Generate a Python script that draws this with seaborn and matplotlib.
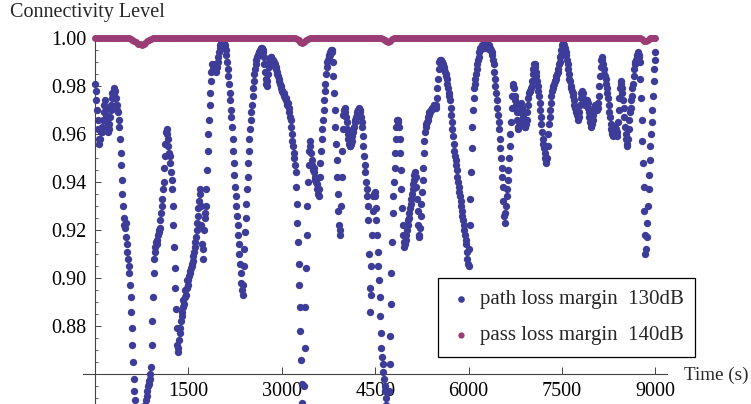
import numpy as np
import pandas as pd
import matplotlib
matplotlib.use("Agg")
import matplotlib.pyplot as plt
import seaborn as sns
from matplotlib.ticker import MultipleLocator

# ---------------- data ----------------
# connectivity level, path loss margin 130 dB, sampled every 10 s (t = 0 ... 9000 s)
blue_step = 10
blue_values = [
    .981, .978, .974, .970, .966, .962, .958, .956, .958, .961,
    .962, .961, .963, .966, .969, .972, .974, .971, .968, .965,
    .963, .961, .962, .964, .967, .970, .972, .975, .977, .975,
    .977, .979, .978, .975, .972, .970, .972, .969, .966, .963,
    .958, .952, .947, .941, .935, .930, .925, .922, .921, .923,
    .917, .914, .911, .908, .905, .902, .897, .892, .886, .879,
    .872, .865, .858, .853, .849, .845, .840, .836, .832, .830,
    .828, .826, .825, .826, .828, .830, .833, .836, .840, .843,
    .845, .847, .849, .851, .853, .855, .856, .857, .858, .860,
    .863, .872, .882, .892, .902, .908, .911, .913, .915, .914,
    .916, .918, .920, .919, .921, .924, .927, .930, .933, .937,
    .940, .946, .951, .956, .961, .962, .960, .958, .955, .952,
    .951, .948, .944, .941, .937, .930, .922, .913, .904, .896,
    .887, .879, .872, .869, .871, .874, .877, .879, .882, .884,
    .886, .888, .891, .889, .892, .895, .893, .896, .899, .897,
    .899, .901, .903, .902, .904, .906, .905, .907, .909, .911,
    .913, .915, .917, .920, .923, .926, .929, .932, .935, .937,
    .930, .922, .914, .908, .912, .920, .927, .925, .930, .937,
    .945, .953, .960, .966, .972, .977, .982, .986, .989, .987,
    .987, .988, .989, .988, .987, .986, .988, .990, .992, .994,
    .996, .997, .998, .999, .999, .998, .999, .998, .997, .996,
    .995, .993, .990, .987, .984, .981, .977, .974, .970, .967,
    .963, .958, .953, .948, .943, .938, .934, .930, .926, .922,
    .918, .914, .910, .906, .902, .898, .895, .893, .897, .905,
    .912, .919, .925, .931, .937, .942, .948, .953, .958, .962,
    .966, .969, .972, .976, .979, .982, .985, .987, .989, .991,
    .992, .993, .993, .994, .994, .995, .995, .996, .996, .995,
    .994, .992, .989, .986, .983, .981, .980, .982, .985, .988,
    .990, .991, .992, .992, .991, .990, .991, .990, .989, .989,
    .988, .987, .986, .985, .984, .983, .982, .981, .980, .979,
    .978, .978, .977, .977, .976, .975, .975, .974, .973, .972,
    .973, .971, .969, .967, .966, .963, .960, .957, .955, .952,
    .950, .947, .944, .938, .931, .923, .915, .906, .897, .888,
    .878, .866, .856, .848, .843, .845, .855, .871, .888, .904,
    .918, .930, .940, .947, .953, .957, .955, .952, .949, .947,
    .945, .946, .944, .942, .941, .940, .939, .937, .935, .934,
    .937, .942, .948, .953, .958, .962, .966, .970, .974, .978,
    .981, .985, .988, .990, .991, .993, .992, .994, .993, .995,
    .995, .994, .990, .984, .977, .970, .963, .956, .949, .942,
    .935, .928, .922, .918, .920, .930, .942, .953, .962, .968,
    .970, .971, .969, .967, .965, .962, .960, .958, .956, .955,
    .955, .956, .957, .959, .961, .962, .963, .965, .966, .967,
    .968, .969, .970, .970, .971, .970, .969, .967, .965, .963,
    .959, .955, .951, .947, .944, .940, .937, .934, .930, .924,
    .910, .896, .886, .893, .905, .918, .928, .934, .935, .936,
    .934, .929, .924, .918, .911, .905, .899, .892, .884, .877,
    .871, .867, .864, .861, .858, .855, .853, .850, .847, .845,
    .843, .846, .853, .864, .876, .889, .902, .915, .927, .934,
    .940, .946, .952, .958, .963, .966, .965, .966, .963, .958,
    .952, .945, .937, .929, .922, .918, .915, .913, .914, .916,
    .918, .920, .922, .924, .925, .927, .929, .931, .933, .935,
    .937, .939, .941, .943, .944, .942, .938, .933, .928, .922,
    .918, .917, .921, .926, .931, .936, .941, .946, .952, .957,
    .961, .963, .964, .965, .966, .967, .968, .969, .969, .970,
    .970, .971, .971, .971, .972, .972, .971, .971, .972, .975,
    .979, .983, .987, .990, .991, .991, .990, .990, .990, .989,
    .988, .987, .986, .985, .984, .983, .981, .979, .977, .976,
    .974, .971, .968, .965, .962, .959, .956, .953, .951, .949,
    .947, .945, .942, .940, .938, .936, .934, .932, .930, .928,
    .926, .924, .922, .920, .918, .916, .914, .911, .908, .906,
    .905, .912, .922, .933, .944, .954, .963, .970, .975, .979,
    .981, .983, .985, .987, .989, .991, .992, .994, .995, .996,
    .996, .996, .997, .997, .996, .996, .997, .997, .996, .996,
    .996, .997, .997, .996, .996, .995, .995, .994, .993, .991,
    .989, .986, .983, .980, .977, .974, .971, .968, .965, .962,
    .958, .954, .950, .946, .942, .938, .932, .926, .923, .927,
    .930, .934, .937, .941, .945, .950, .955, .960, .965, .971,
    .976, .980, .981, .979, .976, .974, .972, .969, .966, .963,
    .962, .965, .969, .972, .973, .971, .969, .967, .965, .964,
    .963, .963, .964, .966, .969, .972, .975, .977, .978, .978,
    .979, .980, .982, .985, .987, .989, .989, .988, .986, .984,
    .982, .980, .978, .976, .973, .970, .967, .964, .961, .958,
    .956, .954, .952, .950, .948, .949, .950, .955, .960, .964,
    .967, .970, .973, .976, .978, .979, .980, .981, .982, .982,
    .983, .984, .985, .986, .987, .989, .990, .992, .993, .995,
    .997, .998, .998, .997, .996, .995, .994, .993, .991, .989,
    .987, .985, .983, .982, .980, .979, .978, .977, .976, .974,
    .972, .971, .970, .969, .968, .967, .966, .967, .969, .972,
    .975, .977, .978, .977, .975, .974, .973, .972, .972, .973,
    .974, .973, .971, .969, .967, .965, .964, .963, .964, .966,
    .968, .970, .971, .972, .971, .970, .970, .971, .973, .976,
    .980, .984, .988, .991, .992, .991, .989, .987, .985, .984,
    .983, .981, .979, .977, .975, .972, .969, .967, .964, .962,
    .961, .960, .959, .960, .962, .963, .962, .960, .959, .961,
    .965, .970, .975, .979, .982, .981, .979, .977, .974, .971,
    .967, .963, .960, .958, .956, .955, .958, .962, .966, .969,
    .971, .974, .976, .979, .981, .984, .987, .989, .990, .991,
    .992, .993, .994, .992, .993, .990, .983, .975, .966, .957,
    .948, .938, .928, .918, .910, .912, .917, .923, .930, .937,
    .943, .949, .955, .960, .965, .970, .976, .982, .987, .991,
    .994,
]

# connectivity level, pass loss margin 140 dB, sampled every 30 s (t = 0 ... 9000 s)
purple_step = 30
purple_values = [
    # 0 - 510 s
    1.0, 1.0, 1.0, 1.0, 1.0, 1.0, 1.0, 1.0, 1.0, 1.0,
    1.0, 1.0, 1.0, 1.0, 1.0, 1.0, 1.0, 1.0,
    # 540 - 900 s
    0.9998, 0.9995, 0.9991, 0.9987, 0.9982, 0.9977, 0.9973, 0.9972, 0.9975,
    0.9980, 0.9986, 0.9991, 0.9996,
    # 930 - 3210 s
    1.0, 1.0, 1.0, 1.0, 1.0, 1.0, 1.0, 1.0, 1.0, 1.0,
    1.0, 1.0, 1.0, 1.0, 1.0, 1.0, 1.0, 1.0, 1.0, 1.0,
    1.0, 1.0, 1.0, 1.0, 1.0, 1.0, 1.0, 1.0, 1.0, 1.0,
    1.0, 1.0, 1.0, 1.0, 1.0, 1.0, 1.0, 1.0, 1.0, 1.0,
    1.0, 1.0, 1.0, 1.0, 1.0, 1.0, 1.0, 1.0, 1.0, 1.0,
    1.0, 1.0, 1.0, 1.0, 1.0, 1.0, 1.0, 1.0, 1.0, 1.0,
    1.0, 1.0, 1.0, 1.0, 1.0, 1.0, 1.0, 1.0, 1.0, 1.0,
    1.0, 1.0, 1.0, 1.0, 1.0, 1.0, 1.0,
    # 3240 - 3420 s
    0.9996, 0.9990, 0.9983, 0.9980, 0.9983, 0.9990, 0.9997,
    # 3450 - 4590 s
    1.0, 1.0, 1.0, 1.0, 1.0, 1.0, 1.0, 1.0, 1.0, 1.0,
    1.0, 1.0, 1.0, 1.0, 1.0, 1.0, 1.0, 1.0, 1.0, 1.0,
    1.0, 1.0, 1.0, 1.0, 1.0, 1.0, 1.0, 1.0, 1.0, 1.0,
    1.0, 1.0, 1.0, 1.0, 1.0, 1.0, 1.0, 1.0, 1.0,
    # 4620 - 4770 s
    0.9997, 0.9991, 0.9986, 0.9985, 0.9989, 0.9995,
    # 4800 - 8760 s
    1.0, 1.0, 1.0, 1.0, 1.0, 1.0, 1.0, 1.0, 1.0, 1.0,
    1.0, 1.0, 1.0, 1.0, 1.0, 1.0, 1.0, 1.0, 1.0, 1.0,
    1.0, 1.0, 1.0, 1.0, 1.0, 1.0, 1.0, 1.0, 1.0, 1.0,
    1.0, 1.0, 1.0, 1.0, 1.0, 1.0, 1.0, 1.0, 1.0, 1.0,
    1.0, 1.0, 1.0, 1.0, 1.0, 1.0, 1.0, 1.0, 1.0, 1.0,
    1.0, 1.0, 1.0, 1.0, 1.0, 1.0, 1.0, 1.0, 1.0, 1.0,
    1.0, 1.0, 1.0, 1.0, 1.0, 1.0, 1.0, 1.0, 1.0, 1.0,
    1.0, 1.0, 1.0, 1.0, 1.0, 1.0, 1.0, 1.0, 1.0, 1.0,
    1.0, 1.0, 1.0, 1.0, 1.0, 1.0, 1.0, 1.0, 1.0, 1.0,
    1.0, 1.0, 1.0, 1.0, 1.0, 1.0, 1.0, 1.0, 1.0, 1.0,
    1.0, 1.0, 1.0, 1.0, 1.0, 1.0, 1.0, 1.0, 1.0, 1.0,
    1.0, 1.0, 1.0, 1.0, 1.0, 1.0, 1.0, 1.0, 1.0, 1.0,
    1.0, 1.0, 1.0, 1.0, 1.0, 1.0, 1.0, 1.0, 1.0, 1.0,
    1.0, 1.0, 1.0,
    # 8790 - 8910 s
    0.9996, 0.9989, 0.9987, 0.9992, 0.9998,
    # 8940 - 9000 s
    1.0, 1.0, 1.0,
]

series_labels = ["path loss margin  130dB", "pass loss margin  140dB"]
x_ticks = [1500, 3000, 4500, 6000, 7500, 9000]
x_tick_labels = ["1500", "3000", "4500", "6000", "7500", "9000"]
y_ticks = [0.86, 0.88, 0.90, 0.92, 0.94, 0.96, 0.98, 1.00]
y_tick_labels = ["", "0.88", "0.90", "0.92", "0.94", "0.96", "0.98", "1.00"]
y_label = "Connectivity Level"
x_label = "Time (s)"

BLUE = "#3d3d99"
PURPLE = "#993d74"

df_blue = pd.DataFrame({"time": np.arange(len(blue_values)) * blue_step,
                        "level": blue_values})
df_purple = pd.DataFrame({"time": np.arange(len(purple_values)) * purple_step,
                          "level": purple_values})

# ---------------- figure ----------------
sns.set_theme(style="ticks")
plt.rcParams["font.family"] = ["Liberation Serif", "DejaVu Serif"]

W, H = 751, 404
fig = plt.figure(figsize=(W / 100, H / 100), dpi=100)
ax = fig.add_axes([83 / W, 0, 584 / W, 369 / H])

sns.scatterplot(data=df_blue, x="time", y="level", ax=ax, color=BLUE, s=28,
                linewidth=0, label=series_labels[0], zorder=3)
sns.scatterplot(data=df_purple, x="time", y="level", ax=ax, color=PURPLE, s=25,
                linewidth=0, label=series_labels[1], zorder=4, clip_on=False)

ax.set_xlim(-193, 9186)
ax.set_ylim(0.8475, 1.00125)
ax.set_xlabel("")
ax.set_ylabel("")

for side in ("top", "right"):
    ax.spines[side].set_visible(False)
ax.spines["left"].set_position(("data", 0))
ax.spines["bottom"].set_position(("data", 0.86))
for side in ("left", "bottom"):
    ax.spines[side].set_color("#444444")
    ax.spines[side].set_linewidth(0.8)

ax.set_xticks(x_ticks)
ax.set_xticklabels(x_tick_labels)
ax.set_yticks(y_ticks)
ax.set_yticklabels(y_tick_labels)
ax.yaxis.set_minor_locator(MultipleLocator(0.005))
ax.tick_params(axis="x", which="major", direction="in", length=5, width=0.7,
               color="#444444", pad=6, labelsize=14.5, labelcolor="black")
ax.tick_params(axis="y", which="major", direction="in", length=4, width=0.7,
               color="#444444", pad=6, labelsize=14.5, labelcolor="black")
ax.tick_params(axis="y", which="minor", direction="in", length=2.2, width=0.6,
               color="#444444")
ax.tick_params(axis="x", which="minor", bottom=False)

fig.text(10 / W, 1 - 3.5 / H, y_label, ha="left", va="top", fontsize=14.5)
fig.text(684 / W, (H - 375) / H, x_label, ha="left", va="center", fontsize=13.8)

handles, labels = ax.get_legend_handles_labels()
leg = ax.legend(handles, labels, loc="upper left",
                bbox_to_anchor=(438 / W, (H - 278) / H),
                bbox_transform=fig.transFigure, borderaxespad=0,
                frameon=True, fancybox=False, framealpha=1, edgecolor="black",
                borderpad=0.55, handlelength=1.11, handletextpad=0.36,
                labelspacing=0.8, fontsize=15, scatterpoints=1, markerscale=0.9)
leg.get_frame().set_linewidth(0.9)

fig.savefig("out.png", dpi=100)
